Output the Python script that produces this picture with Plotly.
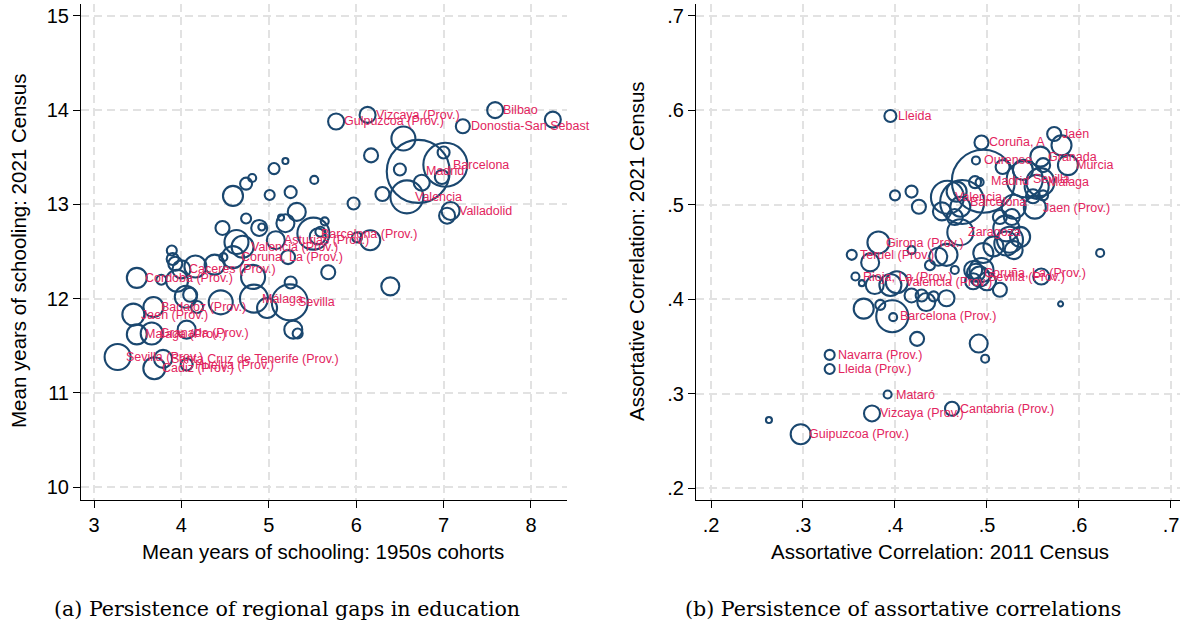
import plotly.graph_objects as go

# ---------------- Panel (a): education ----------------
ed_label = ["Vizcaya (Prov.)", "Gulpuzcoa (Prov.)", "Bilbao", "Donostia-San Sebast", "Barcelona",
            "Madrid", "Valencia", "Valladolid", "Barcelona (Prov.)", "Asturias (Prov.)",
            "Valencia (Prov.)", "Coruna, La (Prov.)", "Caceres (Prov.)", "Cordoba (Prov.)", "Málaga",
            "Sevilla", "Badajoz (Prov.)", "Jaen (Prov.)", "Granada (Prov.)", "Malaga (Prov.)",
            "Sevilla (Prov.)", "Santa Cruz de Tenerife (Prov.)", "Cadiz (Prov.)", "Huelva (Prov.)"]
ed_lab_x = [6.13, 5.77, 7.59, 7.22, 7.02, 6.71, 6.58, 7.08, 5.51, 5.08, 4.70, 4.59, 4.00, 3.49, 4.83,
            5.24, 3.68, 3.45, 3.66, 3.49, 3.27, 3.79, 3.69, 4.06]
ed_lab_y = [13.95, 13.88, 14.00, 13.83, 13.42, 13.35, 13.08, 12.93, 12.69, 12.62, 12.55, 12.44, 12.31,
            12.22, 12.00, 11.96, 11.91, 11.83, 11.63, 11.62, 11.38, 11.36, 11.26, 11.30]
ed_lab_pop = [192, 192, 192, 147, 1452, 2977, 817, 243, 768, 243, 363, 363, 243, 300, 588, 972, 300,
              363, 363, 300, 507, 243, 363, 108]

ed_oth_x = [8.25, 6.54, 6.17, 7.00, 6.50, 6.75, 6.98, 6.30, 5.97, 7.04, 4.59, 4.74, 4.81, 5.06, 5.19,
            5.52, 5.01, 5.25, 4.47, 4.74, 4.89, 4.92, 5.14, 5.19, 5.32, 5.64, 5.59, 5.56, 6.16, 6.01,
            5.68, 5.22, 4.63, 3.89, 3.90, 3.93, 3.77, 3.95, 4.16, 4.48, 4.82, 4.45, 5.25, 4.05, 4.10,
            4.18, 4.98, 5.28, 5.33, 4.06, 6.39, 4.38]
ed_oth_y = [13.90, 13.70, 13.52, 13.55, 13.37, 13.23, 13.29, 13.11, 13.01, 12.88, 13.09, 13.22, 13.28,
            13.38, 13.46, 13.26, 13.10, 13.13, 12.75, 12.85, 12.75, 12.76, 12.86, 12.80, 12.92, 12.82,
            12.71, 12.66, 12.62, 12.65, 12.28, 12.44, 12.60, 12.51, 12.42, 12.37, 12.20, 12.19, 12.34,
            12.44, 12.23, 11.96, 12.17, 12.02, 12.04, 11.91, 11.90, 11.67, 11.63, 11.67, 12.13, 12.36]
ed_oth_pop = [192, 432, 147, 108, 108, 192, 147, 147, 108, 192, 300, 108, 48, 91, 27, 48, 75, 108, 147,
              75, 192, 37, 27, 243, 243, 48, 75, 192, 300, 75, 147, 147, 432, 75, 108, 147, 75, 363,
              363, 48, 432, 432, 108, 363, 147, 108, 300, 243, 75, 243, 243, 300]

ed_xticks = [3, 4, 5, 6, 7, 8]
ed_yticks = [10, 11, 12, 13, 14, 15]

# ---------------- Panel (b): assortative correlation ----------------
ac_label = ["Lleida", "Jaén", "Coruña, A", "Ourense", "Granada", "Murcia", "Madrid", "Sevilla", "Málaga",
            "Valencia", "Barcelona", "Jaen (Prov.)", "Zaragoza", "Girona (Prov.)", "Teruel (Prov.)",
            "Rioja, La (Prov.)", "Valencia (Prov.)", "Coruña, La (Prov.)", "Sevilla (Prov.)",
            "Barcelona (Prov.)", "Navarra (Prov.)", "Lleida (Prov.)", "Mataró", "Cantabria (Prov.)",
            "Vizcaya (Prov.)", "Guipuzcoa (Prov.)"]
ac_lab_x = [0.395, 0.573, 0.494, 0.488, 0.558, 0.588, 0.496, 0.541, 0.558, 0.457, 0.473, 0.552, 0.471,
            0.382, 0.353, 0.357, 0.402, 0.488, 0.492, 0.397, 0.329, 0.329, 0.392, 0.462, 0.375, 0.2975]
ac_lab_y = [0.594, 0.575, 0.566, 0.547, 0.551, 0.542, 0.525, 0.527, 0.524, 0.508, 0.503, 0.497, 0.471,
            0.460, 0.447, 0.424, 0.418, 0.428, 0.424, 0.382, 0.341, 0.326, 0.299, 0.284, 0.279, 0.257]
ac_lab_pop = [108, 147, 147, 48, 300, 300, 2977, 972, 588, 817, 1452, 363, 507, 363, 75, 48, 363, 243,
              300, 768, 75, 75, 48, 147, 192, 300]

ac_oth_x = [0.263, 0.424, 0.491, 0.498, 0.623, 0.580, 0.366, 0.384, 0.398, 0.373, 0.364, 0.378, 0.418,
            0.429, 0.434, 0.442, 0.456, 0.418, 0.438, 0.447, 0.456, 0.465, 0.485, 0.494, 0.485, 0.500,
            0.514, 0.496, 0.507, 0.521, 0.536, 0.529, 0.559, 0.525, 0.395, 0.400, 0.418, 0.426, 0.467,
            0.492, 0.487, 0.529, 0.527, 0.514, 0.539, 0.554, 0.550, 0.561, 0.561, 0.581, 0.465, 0.451,
            0.521, 0.471, 0.517]
ac_oth_y = [0.272, 0.358, 0.353, 0.337, 0.449, 0.395, 0.390, 0.394, 0.381, 0.439, 0.417, 0.415, 0.404,
            0.404, 0.397, 0.403, 0.401, 0.452, 0.436, 0.445, 0.447, 0.431, 0.431, 0.431, 0.419, 0.419,
            0.410, 0.449, 0.456, 0.459, 0.466, 0.452, 0.424, 0.463, 0.415, 0.510, 0.514, 0.498, 0.514,
            0.524, 0.524, 0.498, 0.487, 0.487, 0.537, 0.519, 0.509, 0.510, 0.542, 0.563, 0.487, 0.493,
            0.475, 0.498, 0.540]
ac_oth_pop = [27, 147, 243, 48, 48, 19, 300, 75, 48, 243, 27, 243, 147, 108, 243, 75, 192, 48, 75, 243,
              363, 48, 243, 432, 192, 243, 147, 300, 300, 432, 300, 243, 192, 507, 363, 75, 108, 147,
              300, 48, 108, 432, 192, 147, 300, 432, 147, 75, 147, 300, 192, 243, 507, 300, 147]

ac_ticks = [0.2, 0.3, 0.4, 0.5, 0.6, 0.7]
ac_ticktext = [".2", ".3", ".4", ".5", ".6", ".7"]

# ---------------- styling ----------------
NAVY = "#1a476f"
LABEL_COL = "#e2245e"
W, H = 1186, 629
SANS = "Liberation Sans, Arial, sans-serif"
SERIF = "DejaVu Serif, serif"


def px_x(p):
    return p / W


def px_y(p):
    return 1 - p / H


fig = go.Figure()

marker_style = dict(color="rgba(0,0,0,0)", sizemode="area", sizeref=1.5,
                    line=dict(color=NAVY, width=2.1), symbol="circle", opacity=1)

for xs, ys, ps, xa, ya in [
    (ed_oth_x + ed_lab_x, ed_oth_y + ed_lab_y, ed_oth_pop + ed_lab_pop, "x", "y"),
    (ac_oth_x + ac_lab_x, ac_oth_y + ac_lab_y, ac_oth_pop + ac_lab_pop, "x2", "y2"),
]:
    fig.add_trace(go.Scatter(x=xs, y=ys, mode="markers",
                             marker=dict(size=ps, **marker_style),
                             xaxis=xa, yaxis=ya, hoverinfo="skip", cliponaxis=False))

annotations = []
for labs, xs, ys, xr, yr in [(ed_label, ed_lab_x, ed_lab_y, "x", "y"),
                             (ac_label, ac_lab_x, ac_lab_y, "x2", "y2")]:
    for t, xv, yv in zip(labs, xs, ys):
        annotations.append(dict(x=xv, y=yv, xref=xr, yref=yr, text=t, showarrow=False,
                                xanchor="left", yanchor="middle", xshift=6,
                                font=dict(family=SANS, size=12.5, color=LABEL_COL)))

title_font = dict(family=SANS, size=20.5, color="black")
annotations += [
    dict(x=px_x(18), y=px_y(251), xref="paper", yref="paper", text="Mean years of schooling: 2021 Census",
         textangle=-90, showarrow=False, xanchor="center", yanchor="middle", font=title_font),
    dict(x=px_x(323), y=px_y(551), xref="paper", yref="paper", text="Mean years of schooling: 1950s cohorts",
         showarrow=False, xanchor="center", yanchor="middle", font=title_font),
    dict(x=px_x(636), y=px_y(251), xref="paper", yref="paper", text="Assortative Correlation: 2021 Census",
         textangle=-90, showarrow=False, xanchor="center", yanchor="middle", font=title_font),
    dict(x=px_x(940), y=px_y(551), xref="paper", yref="paper", text="Assortative Correlation: 2011 Census",
         showarrow=False, xanchor="center", yanchor="middle", font=title_font),
    dict(x=px_x(287), y=px_y(609), xref="paper", yref="paper",
         text="(a) Persistence of regional gaps in education",
         showarrow=False, xanchor="center", yanchor="middle",
         font=dict(family=SERIF, size=20.6, color="black")),
    dict(x=px_x(903), y=px_y(609), xref="paper", yref="paper",
         text="(b) Persistence of assortative correlations",
         showarrow=False, xanchor="center", yanchor="middle",
         font=dict(family=SERIF, size=20.6, color="black")),
]

axis_common = dict(showline=True, linecolor="black", linewidth=1.2, mirror=False,
                   ticks="outside", ticklen=7, tickwidth=1.2, tickcolor="black",
                   showgrid=True, gridcolor="#e2e2e2", gridwidth=1.6, griddash="8px,5px",
                   zeroline=False, tickfont=dict(family=SANS, size=20, color="black"))

ydom = [px_y(500), px_y(4)]

fig.update_layout(
    width=W, height=H, margin=dict(l=0, r=0, t=0, b=0),
    paper_bgcolor="white", plot_bgcolor="white", showlegend=False,
    xaxis=dict(domain=[px_x(81), px_x(567)], range=[2.851, 8.412], tickvals=ed_xticks,
               anchor="y", **axis_common),
    yaxis=dict(domain=ydom, range=[9.862, 15.127], tickvals=ed_yticks, anchor="x", **axis_common),
    xaxis2=dict(domain=[px_x(696), px_x(1180)], range=[0.1837, 0.7098], tickvals=ac_ticks,
                ticktext=ac_ticktext, anchor="y2", **axis_common),
    yaxis2=dict(domain=ydom, range=[0.1873, 0.7127], tickvals=ac_ticks, ticktext=ac_ticktext,
                anchor="x2", **axis_common),
    annotations=annotations,
)

fig.write_html("out.html")
